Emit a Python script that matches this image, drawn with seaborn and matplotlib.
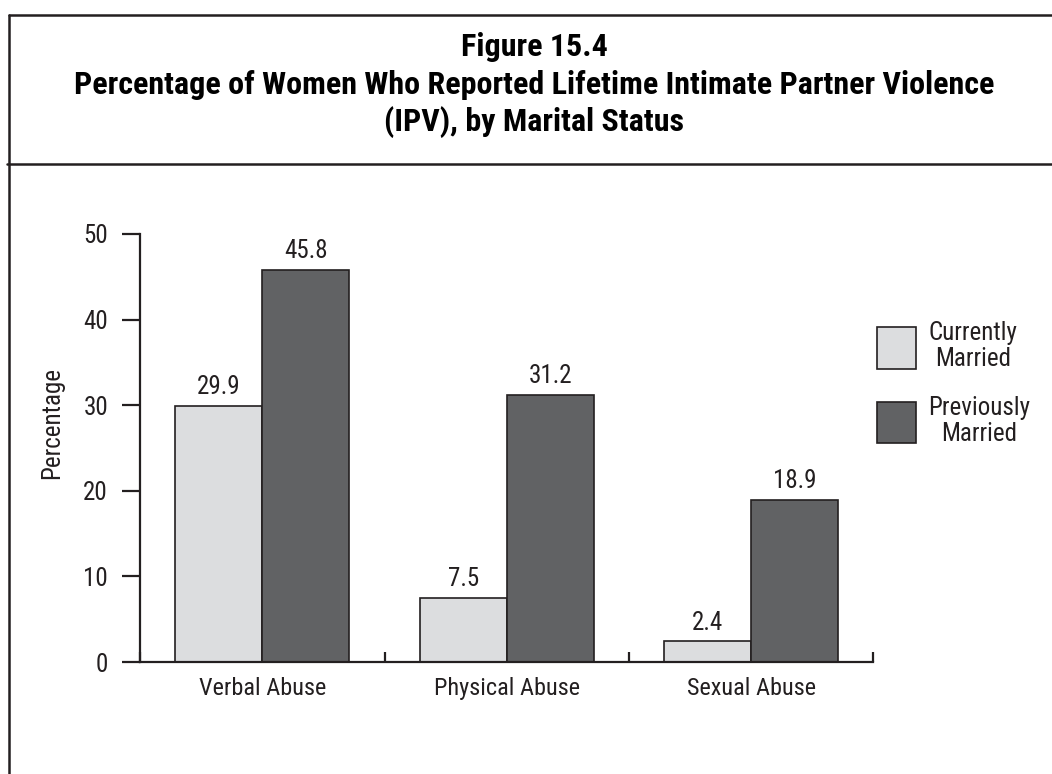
import pandas as pd
import matplotlib.pyplot as plt
import seaborn as sns
from matplotlib.lines import Line2D
from matplotlib.patches import Patch

# ===== data =====
categories = ['Verbal Abuse', 'Physical Abuse', 'Sexual Abuse']
currently_married = [29.9, 7.5, 2.4]
previously_married = [45.8, 31.2, 18.9]
series_names = ['Currently\nMarried', 'Previously\nMarried']
y_ticks = [0, 10, 20, 30, 40, 50]

df = pd.DataFrame({
    'type': categories * 2,
    'status': [series_names[0]] * 3 + [series_names[1]] * 3,
    'value': currently_married + previously_married,
})

sns.set_style('white')
plt.rcParams['font.family'] = ['Roboto Condensed', 'Pragati Narrow', 'Liberation Sans', 'DejaVu Sans']
ink = '#231f20'
colors = {series_names[0]: '#dcdddf', series_names[1]: '#616264'}

fig = plt.figure(figsize=(10.52, 7.74), dpi=100)
ax = fig.add_axes([0.1331, 0.1447, 0.6972, 0.553])

sns.barplot(data=df, x='type', y='value', hue='status', palette=colors,
            width=0.71, edgecolor=ink, linewidth=1.2, saturation=1,
            legend=False, ax=ax)

# value labels
for cont in ax.containers:
    ax.bar_label(cont, fmt='%.1f', padding=5, fontsize=18, color=ink)

# axes styling
ax.set_xlim(-0.5, 2.5)
ax.set_ylim(0, 50)
ax.set_yticks(y_ticks)
ax.set_xlabel('')
ax.set_ylabel('')
for s in ['top', 'right']:
    ax.spines[s].set_visible(False)
for s in ['left', 'bottom']:
    ax.spines[s].set_linewidth(1.6)
    ax.spines[s].set_color(ink)
ax.tick_params(axis='y', direction='out', length=13, width=1.6, color=ink,
               labelsize=18, labelcolor=ink, pad=10, left=True)
ax.tick_params(axis='x', which='major', length=0, labelsize=17.5,
               labelcolor=ink, pad=11)
ax.set_xticks([-0.5, 0.5, 1.5, 2.5], minor=True)
ax.tick_params(axis='x', which='minor', direction='in', length=7.2,
               width=1.6, color=ink, bottom=True)

# legend
handles = [Patch(facecolor=colors[n], edgecolor=ink, linewidth=1.2) for n in series_names]
leg = ax.legend(handles, series_names, loc='upper left',
                bbox_to_anchor=(877 / 1052, 1 - 321 / 774),
                bbox_transform=fig.transFigure, frameon=False,
                fontsize=18, borderpad=0, borderaxespad=0,
                handlelength=1.55, handleheight=2.2, handletextpad=0.5,
                labelspacing=1.0)
for t in leg.get_texts():
    t.set_multialignment('center')
    t.set_linespacing(1.1)
    t.set_color(ink)

# y label
fig.text(52 / 1052, 1 - 423 / 774, 'Percentage', rotation=90, ha='center',
         va='center', fontsize=18, color=ink)

# title
title_lines = ['Figure 15.4',
               'Percentage of Women Who Reported Lifetime Intimate Partner Violence',
               '(IPV), by Marital Status']
for i, line in enumerate(title_lines):
    fig.text(0.5076, 1 - (47 + 37.5 * i) / 774, line, ha='center', va='center',
             fontsize=23, fontweight='bold', color='black')

# frame
lw = 1.8
fig.add_artist(Line2D([9 / 1052, 9 / 1052], [0, 1 - 15 / 774], transform=fig.transFigure,
                      color=ink, lw=lw))
fig.add_artist(Line2D([9 / 1052, 1], [1 - 15 / 774, 1 - 15 / 774], transform=fig.transFigure,
                      color=ink, lw=lw))
fig.add_artist(Line2D([7 / 1052, 1], [1 - 164 / 774, 1 - 164 / 774], transform=fig.transFigure,
                      color=ink, lw=lw))

fig.savefig('out.png', dpi=100)
